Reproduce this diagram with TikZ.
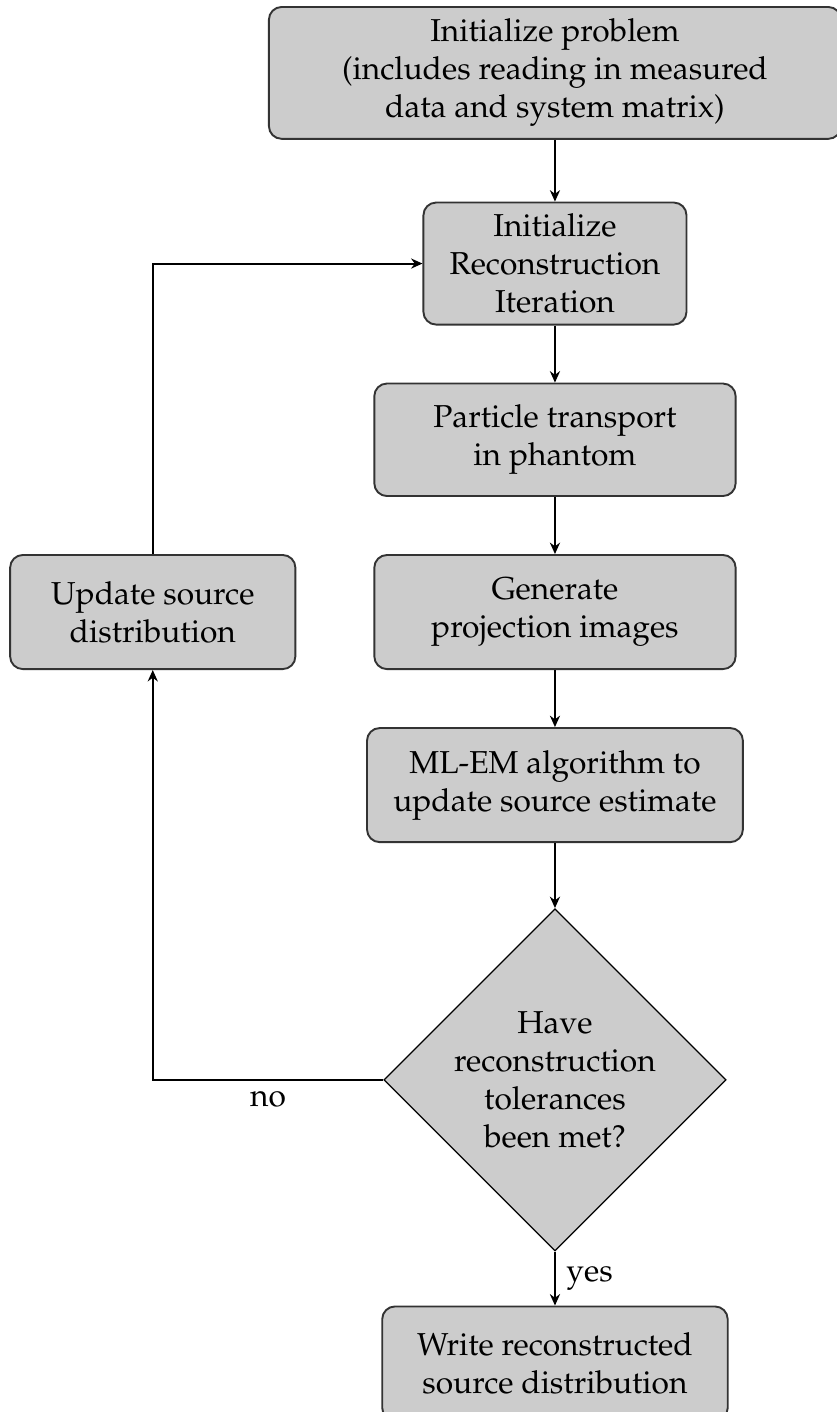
\documentclass[tikz,border=0pt]{standalone}
\usepackage[T1]{fontenc}
\usepackage{mathpazo}
\usetikzlibrary{positioning, arrows.meta, shapes.geometric}

\begin{document}
\begin{tikzpicture}[->,>={Stealth[length=3.6pt,width=3.2pt]},semithick,node distance=18pt,
    block/.style={rectangle,rounded corners,draw=black!80,fill=gray!40,align=center,minimum height=36pt},
    decision/.style={diamond,draw,thin,fill=gray!40,align=center,inner sep=0pt,minimum width=108pt,minimum height=108pt}]
      \useasboundingbox (-175.1pt,23pt) rectangle (88.7pt,-422.5pt);
      \node[block,minimum width=180.5pt,minimum height=41.6pt] (init) {Initialize problem\\(includes reading in measured\\data and system matrix)};
      \node[block,below=19.5pt of init,minimum width=83pt,minimum height=38.5pt] (iter) {Initialize\\Reconstruction\\Iteration};
      \node[block,below=of iter,minimum width=114pt,minimum height=35.5pt] (transport) {Particle transport\\in phantom};
      \node[block,below=of transport,minimum width=114pt] (proj) {Generate\\projection images};
      \node[block,below=of proj,minimum width=118.6pt] (mlem) {ML-EM algorithm to\\update source estimate};
      \node[decision,below=20.5pt of mlem] (check) {Have\\reconstruction\\tolerances\\been met?};
      \node[block,below=17pt of check,minimum width=109pt] (write) {Write reconstructed\\source distribution};
      \node[block,left=24.3pt of proj,minimum width=90pt] (update) {Update source\\distribution};
      \path (init) edge (iter)
        (iter) edge (transport)
        (transport) edge (proj)
        (proj) edge (mlem)
        (mlem) edge (check)
        (check) edge node[right,-] {yes} (write);
      \draw (check.west) -| node[pos=0.25,below] {no} (update.south);
      \draw (update.north) |- (iter.west);
    \end{tikzpicture}
\end{document}
